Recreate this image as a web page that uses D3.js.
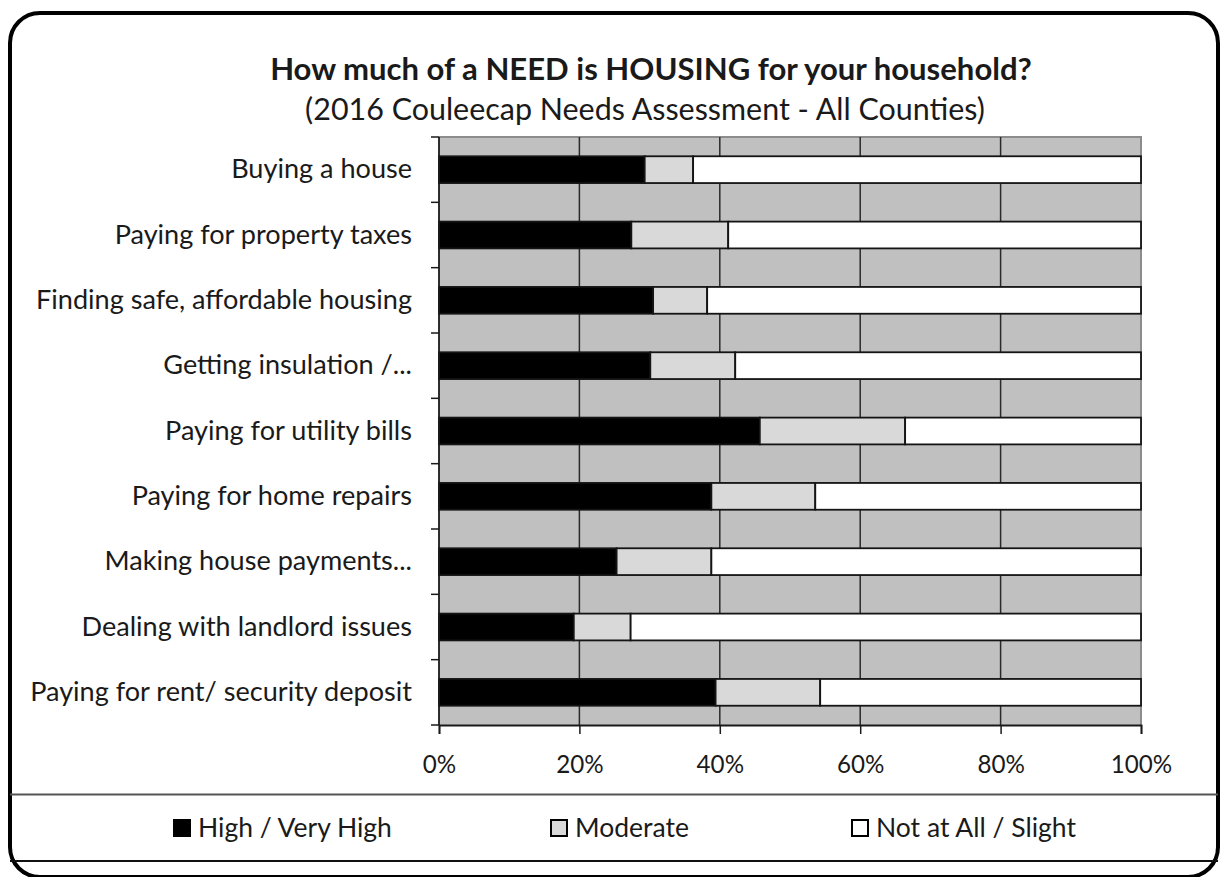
<!DOCTYPE html>
<html>
<head>
<meta charset="utf-8">
<script src="https://cdn.jsdelivr.net/npm/d3@7/dist/d3.min.js"></script>
<style>
  html, body { margin: 0; padding: 0; background: #fff; }
  svg { display: block; }
  text { font-family: Lato, "Open Sans", sans-serif; fill: #1a1a1a; }
</style>
</head>
<body>
<svg id="chart" width="1221" height="877"></svg>
<script>
// Survey categories, top to bottom
const categories = [
  "Buying a house",
  "Paying for property taxes",
  "Finding safe, affordable housing",
  "Getting insulation /...",
  "Paying for utility bills",
  "Paying for home repairs",
  "Making house payments...",
  "Dealing with landlord issues",
  "Paying for rent/ security deposit"
];

// Share of respondents (%) per level of need
const highVeryHigh = [29.3, 27.4, 30.5, 30.1, 45.7, 38.8, 25.3, 19.2, 39.4];
const moderate     = [6.9, 13.8, 7.7, 12.1, 20.7, 14.8, 13.5, 8.1, 14.9];
const notAtAll     = [63.8, 58.8, 61.8, 57.8, 33.6, 46.4, 61.2, 72.7, 45.7];

const seriesNames = ["High / Very High", "Moderate", "Not at All / Slight"];
const seriesColors = ["#000000", "#d9d9d9", "#ffffff"];
const xTicks = [0, 20, 40, 60, 80, 100];

const titleText = "How much of a NEED is HOUSING for your household?";
const subtitleText = "(2016 Couleecap Needs Assessment - All Counties)";

const svg = d3.select("#chart");

// size a text element so it spans the given width
function fitWidth(sel, target) {
  const w = sel.node().getComputedTextLength();
  const fs = parseFloat(sel.attr("font-size"));
  const nfs = fs * target / w;
  sel.attr("font-size", nfs);
  return nfs;
}

// outer rounded frame
svg.append("rect")
  .attr("x", 10).attr("y", 13)
  .attr("width", 1208).attr("height", 864)
  .attr("rx", 30).attr("ry", 30)
  .attr("fill", "#fff")
  .attr("stroke", "#000")
  .attr("stroke-width", 4);

// plot area
const plot = { left: 439, right: 1141, top: 137, bottom: 725 };

const x = d3.scaleLinear().domain([0, 100]).range([plot.left, plot.right]);
const y = d3.scaleBand()
  .domain(categories)
  .range([plot.top, plot.bottom])
  .paddingInner(0.59)
  .paddingOuter(0.295);

// background
svg.append("rect")
  .attr("x", plot.left).attr("y", plot.top)
  .attr("width", plot.right - plot.left).attr("height", plot.bottom - plot.top)
  .attr("fill", "#c0c0c0");

// plot border (top and right)
svg.append("path")
  .attr("d", `M${plot.left},${plot.top}H${plot.right}V${plot.bottom}`)
  .attr("fill", "none")
  .attr("stroke", "#8c8c8c")
  .attr("stroke-width", 2);

// vertical gridlines
svg.append("g")
  .selectAll("line")
  .data(xTicks.filter(t => t > 0 && t < 100))
  .join("line")
  .attr("x1", d => x(d)).attr("x2", d => x(d))
  .attr("y1", plot.top).attr("y2", plot.bottom)
  .attr("stroke", "#2a2a2a")
  .attr("stroke-width", 1.5);

// stacked bars
const rows = categories.map((c, i) => ({
  category: c,
  [seriesNames[0]]: highVeryHigh[i],
  [seriesNames[1]]: moderate[i],
  [seriesNames[2]]: notAtAll[i]
}));
const stacked = d3.stack().keys(seriesNames)(rows);

svg.append("g")
  .selectAll("g")
  .data(stacked)
  .join("g")
  .attr("fill", (d, i) => seriesColors[i])
  .selectAll("rect")
  .data(d => d)
  .join("rect")
  .attr("x", d => x(d[0]))
  .attr("y", d => y(d.data.category))
  .attr("width", d => x(d[1]) - x(d[0]))
  .attr("height", y.bandwidth())
  .attr("stroke", "#141414")
  .attr("stroke-width", 1.8);

// y axis: line and tick marks at category boundaries
const step = y.step();
const boundaries = categories.map(c => y(c) + y.bandwidth() / 2 - step / 2);
boundaries.push(plot.bottom);

const yAxis = svg.append("g");
yAxis.append("line")
  .attr("x1", plot.left).attr("x2", plot.left)
  .attr("y1", plot.top).attr("y2", plot.bottom)
  .attr("stroke", "#1a1a1a").attr("stroke-width", 1.8);
yAxis.selectAll("line.tick")
  .data(boundaries)
  .join("line")
  .attr("class", "tick")
  .attr("x1", plot.left - 8).attr("x2", plot.left)
  .attr("y1", d => d).attr("y2", d => d)
  .attr("stroke", "#1a1a1a").attr("stroke-width", 1.5);

// category labels
const labels = svg.append("g")
  .selectAll("text")
  .data(categories)
  .join("text")
  .attr("x", 412)
  .attr("y", d => y(d) + y.bandwidth() / 2 + 8.5)
  .attr("text-anchor", "end")
  .attr("font-size", 26)
  .text(d => d);
const longest = labels.filter(d => d === "Paying for rent/ security deposit");
const labelSize = fitWidth(longest, 382);
labels.attr("font-size", labelSize);

// x axis
const xAxis = svg.append("g").attr("transform", `translate(0,${plot.bottom})`)
  .call(d3.axisBottom(x).tickValues(xTicks).tickFormat(d => d + "%").tickSize(9).tickPadding(0));
xAxis.select(".domain").attr("stroke", "#1a1a1a").attr("stroke-width", 1.8);
xAxis.selectAll(".tick line").attr("stroke", "#1a1a1a").attr("stroke-width", 1.5);
xAxis.selectAll(".tick text")
  .attr("fill", "#1a1a1a")
  .attr("dy", null)
  .attr("y", 47.5)
  .style("font-family", "Lato, 'Open Sans', sans-serif")
  .attr("font-size", 26);
const tick100 = xAxis.selectAll(".tick text").filter(d => d === 100);
const tickSize = fitWidth(tick100, 61.5);
xAxis.selectAll(".tick text").attr("font-size", tickSize);

// title and subtitle
const title = svg.append("text")
  .attr("x", 651).attr("y", 79.5)
  .attr("text-anchor", "middle")
  .attr("font-weight", "bold")
  .attr("font-size", 30)
  .text(titleText);
fitWidth(title, 762);

const subtitle = svg.append("text")
  .attr("x", 645).attr("y", 120)
  .attr("text-anchor", "middle")
  .attr("font-size", 28)
  .text(subtitleText);
fitWidth(subtitle, 680);

// legend separators
svg.append("line")
  .attr("x1", 10).attr("x2", 1218)
  .attr("y1", 794.5).attr("y2", 794.5)
  .attr("stroke", "#555").attr("stroke-width", 2);
svg.append("line")
  .attr("x1", 10).attr("x2", 1218)
  .attr("y1", 861).attr("y2", 861)
  .attr("stroke", "#111").attr("stroke-width", 2);

// legend
const legendX = [173, 550, 851];
const legend = svg.append("g")
  .selectAll("g")
  .data(seriesNames)
  .join("g")
  .attr("transform", (d, i) => `translate(${legendX[i]},819)`);
legend.append("rect")
  .attr("x", 1).attr("y", 1)
  .attr("width", 16).attr("height", 16)
  .attr("fill", (d, i) => seriesColors[i])
  .attr("stroke", "#000")
  .attr("stroke-width", 2);
const legendText = legend.append("text")
  .attr("x", 25).attr("y", 18)
  .attr("font-size", 26)
  .text(d => d);
const legSize = fitWidth(legendText.filter(d => d === "Moderate"), 114);
legendText.attr("font-size", legSize);
</script>
</body>
</html>
